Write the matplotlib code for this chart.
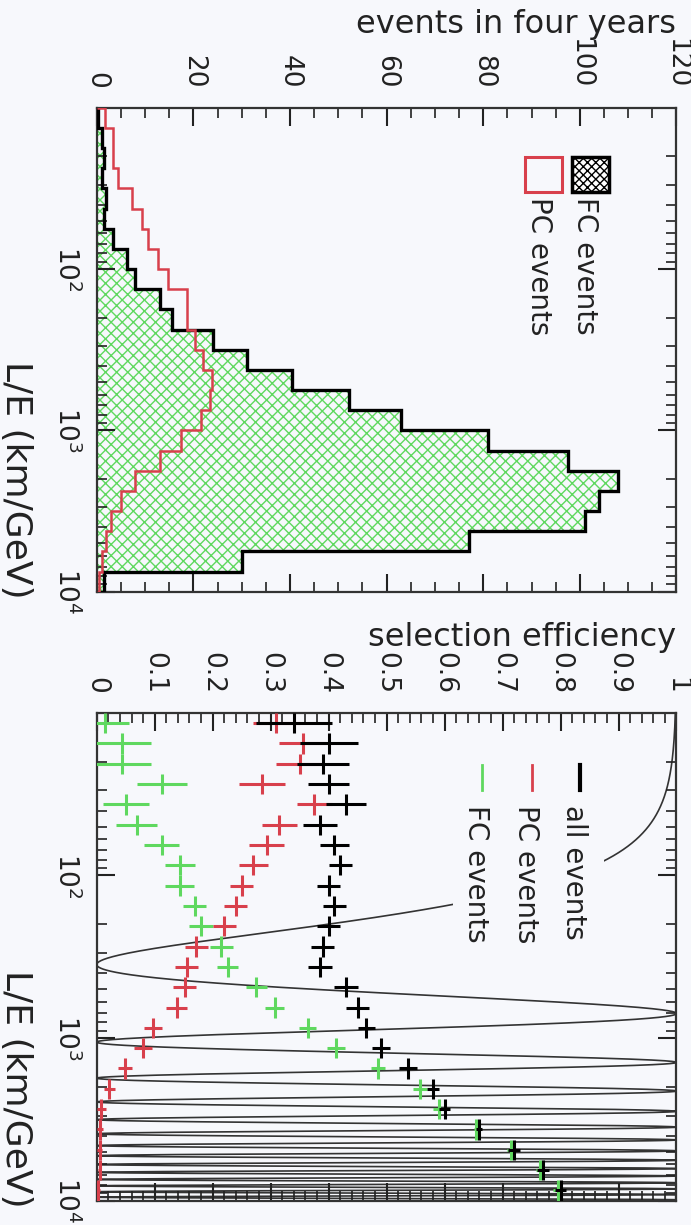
import numpy as np
import matplotlib
matplotlib.use("Agg")
import matplotlib.pyplot as plt
from matplotlib.patches import Rectangle
from matplotlib.ticker import MultipleLocator, FixedLocator, NullFormatter, LogLocator, FuncFormatter

# L/E bins (km/GeV): 8 per decade, 10 .. 10^4
le_edges = np.logspace(1, 4, 25)

# events in four years per L/E bin
fc_events = [0.3, 1.0, 1.5, 1.0, 2.0, 1.5, 3.3, 6.2, 7.9, 13.0, 15.5, 24.0,
             31.0, 40.5, 52.3, 63.0, 81.0, 97.5, 107.8, 104.0, 101.0, 77.0, 30.0, 1.5]
pc_events = [1.7, 3.3, 3.3, 4.3, 7.2, 9.3, 10.6, 12.6, 14.7, 18.6, 18.6, 20.3,
             22.0, 23.8, 23.5, 21.5, 17.5, 13.0, 8.0, 5.0, 3.0, 2.0, 1.0, 0.5]

# selection efficiency per L/E bin and its error
eff_all = [0.34, 0.40, 0.39, 0.40, 0.43, 0.385, 0.41, 0.42, 0.40, 0.41, 0.40, 0.39,
           0.385, 0.43, 0.45, 0.465, 0.49, 0.537, 0.58, 0.60, 0.66, 0.72, 0.77, 0.80]
err_all = [0.065, 0.05, 0.045, 0.035, 0.035, 0.03, 0.025, 0.02, 0.02, 0.02, 0.02, 0.02,
           0.02, 0.02, 0.02, 0.015, 0.015, 0.015, 0.01, 0.01, 0.005, 0.01, 0.01, 0.01]
eff_pc = [0.31, 0.355, 0.35, 0.285, 0.375, 0.315, 0.293, 0.27, 0.25, 0.24, 0.22, 0.172,
          0.155, 0.152, 0.138, 0.097, 0.08, 0.048, 0.022, 0.008, 0.005, 0.005, 0.005, 0.003]
err_pc = [0.04, 0.04, 0.04, 0.04, 0.03, 0.03, 0.03, 0.025, 0.02, 0.02, 0.02, 0.02,
          0.02, 0.02, 0.018, 0.015, 0.015, 0.012, 0.01, 0.008, 0.005, 0.004, 0.003, 0.003]
eff_fc = [0.015, 0.043, 0.043, 0.112, 0.051, 0.069, 0.112, 0.143, 0.143, 0.169, 0.18, 0.215,
          0.226, 0.275, 0.307, 0.364, 0.413, 0.485, 0.557, 0.59, 0.655, 0.715, 0.765, 0.795]
err_fc = [0.04, 0.05, 0.05, 0.043, 0.04, 0.035, 0.03, 0.026, 0.025, 0.02, 0.02, 0.02,
          0.018, 0.018, 0.016, 0.015, 0.015, 0.012, 0.012, 0.01, 0.005, 0.008, 0.008, 0.008]

# two-flavour survival probability drawn over the efficiency panel
dm2 = 3.5e-3        # eV^2
sin2_2theta = 1.0

BG = '#f7f8fc'
RED = '#d8404c'
GREEN = '#5fd85f'
TICK_FS = 19
LABEL_FS = 23
LE_FS = 26
LEG_FS = 20

plt.rcParams['font.family'] = 'DejaVu Sans'

fig = plt.figure(figsize=(6.91, 12.25), dpi=100, facecolor=BG)
ax1 = fig.add_axes([0.140, 0.517, 0.839, 0.395], facecolor=BG)
ax2 = fig.add_axes([0.140, 0.020, 0.839, 0.398], facecolor=BG)


def style_axes(ax, xmax, major, minor, fmt, xlabel):
    ax.set_yscale('log')
    ax.set_ylim(1e4, 10)
    ax.set_xlim(0, xmax)
    ax.xaxis.tick_top()
    ax.xaxis.set_label_position('top')
    ax.xaxis.set_major_locator(MultipleLocator(major))
    ax.xaxis.set_minor_locator(MultipleLocator(minor))
    ax.xaxis.set_major_formatter(FuncFormatter(fmt))
    ax.yaxis.set_major_locator(FixedLocator([100, 1000, 10000]))
    ax.yaxis.set_minor_locator(LogLocator(base=10, subs=np.arange(2, 10)))
    ax.yaxis.set_minor_formatter(NullFormatter())
    ax.tick_params(which='both', direction='in', top=True, bottom=True,
                   left=True, right=True, color='#222222')
    ax.tick_params(which='major', length=13, width=1.5)
    ax.tick_params(which='minor', length=7, width=1.2)
    ax.tick_params(axis='x', labelrotation=-90, pad=14, labelsize=TICK_FS, labelcolor='#222222')
    ax.tick_params(axis='y', labelrotation=-90, pad=12, labelsize=TICK_FS, labelcolor='#222222')
    for lab in ax.get_yticklabels():
        lab.set_va('center')
    for sp in ax.spines.values():
        sp.set_linewidth(1.6)
        sp.set_color('#333333')
    ax.set_xlabel(xlabel, loc='right', fontsize=LABEL_FS, labelpad=4, color='#222222')
    ax.set_ylabel('L/E (km/GeV)', fontsize=LE_FS, color='#222222')
    lab = ax.yaxis.label
    lab.set_rotation(-90)
    lab.set_rotation_mode('anchor')
    lab.set_ha('right')
    lab.set_va('center')
    ax.yaxis.set_label_coords(-0.14, -0.015)


# ---- top panel: event distributions ----
ax1.stairs(fc_events, le_edges, orientation='horizontal', fill=True,
           facecolor=BG, edgecolor=GREEN, hatch='xxx', linewidth=0, zorder=1)
ax1.stairs(fc_events, le_edges, orientation='horizontal', color='black',
           linewidth=2.4, zorder=3)
ax1.stairs(pc_events, le_edges, orientation='horizontal', color=RED,
           linewidth=1.8, zorder=4)
style_axes(ax1, 120, 20, 5, lambda v, p: '%d' % round(v), 'events in four years')

ax1.add_patch(Rectangle((0.819, 0.826), 0.065, 0.073, transform=ax1.transAxes,
                        facecolor='white', edgecolor='black', hatch='xxxx', lw=2.5))
ax1.add_patch(Rectangle((0.738, 0.826), 0.064, 0.073, transform=ax1.transAxes,
                        facecolor='none', edgecolor=RED, lw=2.2))
ax1.text(0.843, 0.816, 'FC events', transform=ax1.transAxes, rotation=-90,
         ha='center', va='top', fontsize=LEG_FS, color='#222222')
ax1.text(0.762, 0.816, 'PC events', transform=ax1.transAxes, rotation=-90,
         ha='center', va='top', fontsize=LEG_FS, color='#222222')

# ---- bottom panel: selection efficiency ----
le_lo = le_edges[:-1]
le_hi = le_edges[1:]
le_mid = np.sqrt(le_lo * le_hi)
yerr = [le_mid - le_lo, le_hi - le_mid]

le_curve = np.logspace(1, 4, 20000)
p_surv = 1 - sin2_2theta * np.sin(1.27 * dm2 * le_curve) ** 2
ax2.plot(p_surv, le_curve, color='#333333', lw=1.2, zorder=1.5)

ax2.add_patch(Rectangle((0.615, 0.60), 0.26, 0.31, transform=ax2.transAxes,
                        facecolor=BG, edgecolor='none', zorder=2.5))

for eff, err, col in [(eff_fc, err_fc, GREEN), (eff_pc, err_pc, RED), (eff_all, err_all, 'black')]:
    ax2.errorbar(eff, le_mid, xerr=err, yerr=yerr, fmt='none', ecolor=col,
                 elinewidth=2.2, capsize=0, zorder=3)

style_axes(ax2, 1.0, 0.1, 0.02, lambda v, p: '%g' % round(v, 2), 'selection efficiency')

entries = [(0.833, 0.824, 'black', 3.0, 'all events'),
           (0.750, 0.741, RED, 2.0, 'PC events'),
           (0.664, 0.655, GREEN, 2.0, 'FC events')]
for xm, xt, col, lw, name in entries:
    ax2.plot([xm, xm], [0.893, 0.842], transform=ax2.transAxes, color=col, lw=lw, zorder=4)
    ax2.text(xt, 0.811, name, transform=ax2.transAxes, rotation=-90,
             ha='center', va='top', fontsize=LEG_FS, color='#222222', zorder=4)

fig.savefig('out.png', dpi=100, facecolor=BG)
